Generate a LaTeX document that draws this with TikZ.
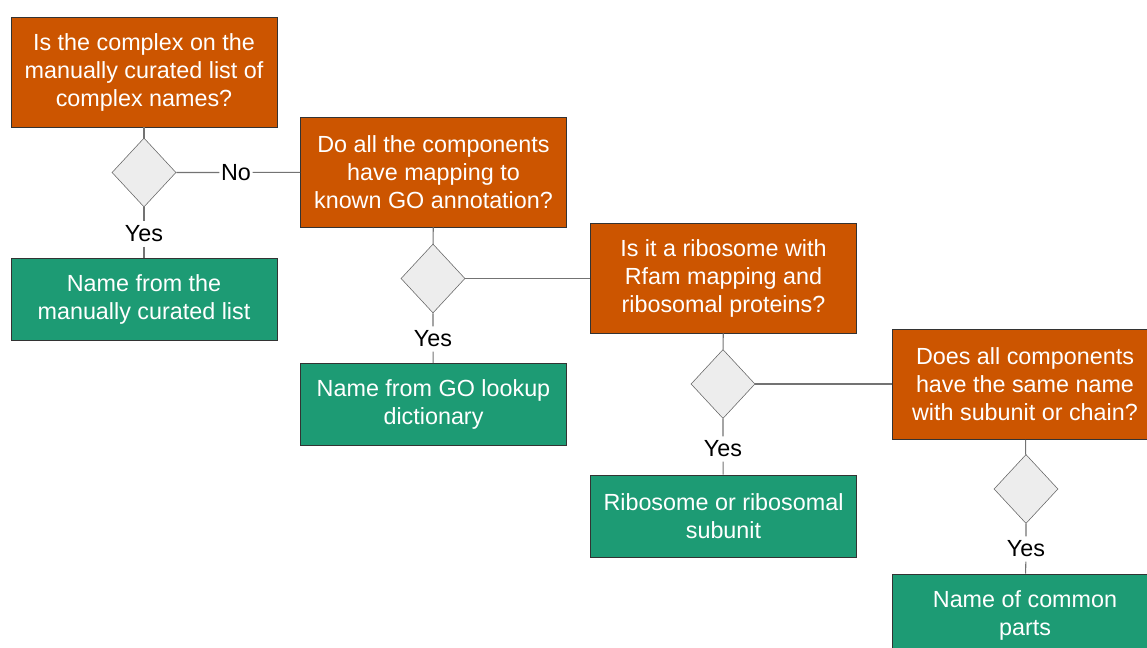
\documentclass[tikz,border=0pt]{standalone}
\usepackage{fontspec}
\setmainfont{Liberation Sans}
\usetikzlibrary{shapes.geometric}
\definecolor{askorange}{RGB}{204,85,0}
\definecolor{namegreen}{RGB}{29,155,116}
\colorlet{decidegray}{black!7}
\colorlet{wiregray}{black!55}

\begin{document}
\begin{tikzpicture}[x=0.025cm,y=-0.025cm,
    question/.style={draw=black!80, fill=askorange, text=white, align=center,
        minimum width=6.65cm, minimum height=2.75cm, inner sep=0pt,
        font=\fontsize{16.6}{19.9}\selectfont},
    answer/.style={question, fill=namegreen, minimum height=2.05cm},
    decide/.style={diamond, draw=black!60, fill=decidegray, inner sep=0pt,
        minimum width=1.6cm, minimum height=1.725cm},
    tag/.style={inner xsep=1pt, inner ysep=3pt, font=\fontsize{16.6}{19.9}\selectfont},
    wire/.style={draw=wiregray, line width=0.75pt}]
    \useasboundingbox (0,0) rectangle (1147,648);
    \clip (0,0) rectangle (1147,648);

    % curated list
    \node[question] (q1) at (144,72) {Is the complex on the\\manually curated list of\\complex names?};
    \node[decide] (d1) at (144,172.5) {};
    \node[tag] (yes1) at (144,234) {Yes};
    \node[tag] (no1) at (236,172.5) {No};
    \node[answer] (a1) at (144,299) {Name from the\\manually curated list};

    % GO annotation
    \node[question] (q2) at (433.5,172) {Do all the components\\have mapping to\\known GO annotation?};
    \node[decide] (d2) at (433,278.5) {};
    \node[tag] (yes2) at (433,339) {Yes};
    \node[answer] (a2) at (433.5,404.5) {Name from GO lookup\\dictionary};

    % ribosome
    \node[question] (q3) at (723.5,278) {Is it a ribosome with\\Rfam mapping and\\ribosomal proteins?};
    \node[decide] (d3) at (723,384) {};
    \node[tag] (yes3) at (723,449) {Yes};
    \node[answer] (a3) at (723.5,516) {Ribosome or ribosomal\\subunit};

    % common parts
    \node[question] (q4) at (1025,384.5) {Does all components\\have the same name\\with subunit or chain?};
    \node[decide] (d4) at (1026,489) {};
    \node[tag] (yes4) at (1026,549) {Yes};
    \node[answer] (a4) at (1025,615) {Name of common\\parts};

    % connectors
    \draw[wire] (q1) -- (d1) -- (yes1) -- (a1);
    \draw[wire] (d1) -- (no1) -- (q2);
    \draw[wire] (q2) -- (d2) -- (yes2) -- (a2);
    \draw[wire] (d2.east) -- (d2.east -| q3.west);
    \draw[wire] (q3) -- (d3) -- (yes3) -- (a3);
    \draw[wire] (d3.east) -- (d3.east -| q4.west);
    \draw[wire] (q4) -- (d4) -- (yes4) -- (a4);
\end{tikzpicture}
\end{document}
